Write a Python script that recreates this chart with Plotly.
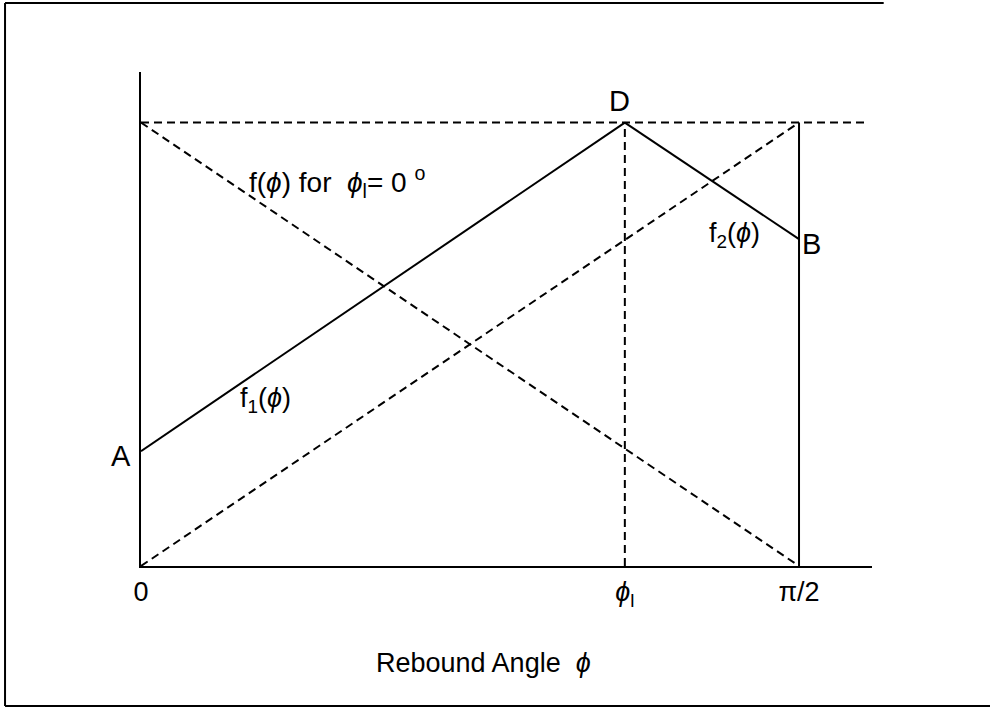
import math
import plotly.graph_objects as go

# Angles (radians) and normalized f values
phi_l = 1.155
half_pi = math.pi / 2
x_max = 1.745
y_max = 1.114

f_A = 0.259      # f1 at phi = 0
f_D = 1.0        # peak at phi = phi_l
f_B = 0.737      # f2 at phi = pi/2

f1_x = [0, phi_l]
f1_y = [f_A, f_D]
f2_x = [phi_l, half_pi]
f2_y = [f_D, f_B]

zero_x = [0, half_pi]          # f(phi) for phi_l = 0
zero_y = [f_D, 0]
rise_x = [0, half_pi]
rise_y = [0, f_D]
top_x = [0, 1.728]
top_y = [f_D, f_D]
vl_x = [phi_l, phi_l]
vl_y = [0, f_D]
edge_x = [half_pi, half_pi]
edge_y = [0, f_D]

tick_vals = [0, phi_l, half_pi]
tick_text = ["0", "<i>ϕ</i><sub>l</sub>", "π/2"]

FONT = "Liberation Sans, Arial, sans-serif"
solid = dict(color="black", width=2)
dashed = dict(color="black", width=2, dash="8px,5px")

fig = go.Figure()
for xs, ys, ln in [
    (top_x, top_y, dashed),
    (zero_x, zero_y, dashed),
    (rise_x, rise_y, dashed),
    (vl_x, vl_y, dashed),
    (f1_x, f1_y, solid),
    (f2_x, f2_y, solid),
    (edge_x, edge_y, solid),
]:
    fig.add_trace(go.Scatter(x=xs, y=ys, mode="lines", line=ln,
                             hoverinfo="skip", showlegend=False, cliponaxis=False))

ann = [
    dict(x=phi_l, y=f_D, text="D", xanchor="center", yanchor="bottom",
         xshift=-5, yshift=4, font=dict(size=29)),
    dict(x=half_pi, y=f_B, text="B", xanchor="left", yanchor="middle",
         xshift=1, yshift=-5, font=dict(size=29)),
    dict(x=0, y=f_A, text="A", xanchor="right", yanchor="middle",
         xshift=-8, yshift=-5, font=dict(size=29)),
    dict(x=0.2316, y=0.374, text="f<sub>1</sub>(<i>ϕ</i>)", xanchor="left",
         yanchor="middle", font=dict(size=27)),
    dict(x=1.351, y=0.746, text="f<sub>2</sub>(<i>ϕ</i>)", xanchor="left",
         yanchor="middle", font=dict(size=27)),
    dict(x=0.253, y=0.866,
         text="f(<i>ϕ</i>) for  <i>ϕ</i><sub>l</sub>= 0 <sup>o</sup>",
         xanchor="left", yanchor="middle", font=dict(size=28)),
    dict(x=0.468, y=-0.196, xref="paper", yref="paper",
         text="Rebound Angle  <i>ϕ</i>", xanchor="center", yanchor="middle",
         font=dict(size=27)),
]
for a in ann:
    a.setdefault("xref", "x")
    a.setdefault("yref", "y")
    a["showarrow"] = False
    a["font"]["family"] = FONT
    a["font"]["color"] = "black"
    fig.add_annotation(**a)

# Page frame (open on the right)
frame = dict(type="line", xref="paper", yref="paper",
             line=dict(color="black", width=2))
fig.add_shape(**frame, x0=-0.186, x1=-0.186, y0=-0.2834, y1=1.1397)
fig.add_shape(**frame, x0=-0.186, x1=1.016, y0=1.1397, y1=1.1397)
fig.add_shape(**frame, x0=-0.186, x1=1.162, y0=-0.2834, y1=-0.2834)

fig.update_layout(
    width=990, height=711,
    margin=dict(l=141, r=118, t=72, b=145),
    paper_bgcolor="white", plot_bgcolor="white",
    font=dict(family=FONT, color="black"),
    xaxis=dict(range=[0, x_max], showgrid=False, zeroline=False,
               showline=True, linecolor="black", linewidth=2,
               tickmode="array", tickvals=tick_vals, ticktext=tick_text,
               ticks="", ticklabelstandoff=1,
               tickfont=dict(size=27, family=FONT, color="black")),
    yaxis=dict(range=[0, y_max], showgrid=False, zeroline=False,
               showline=True, linecolor="black", linewidth=2,
               showticklabels=False, ticks=""),
)

fig.write_html("out.html")
